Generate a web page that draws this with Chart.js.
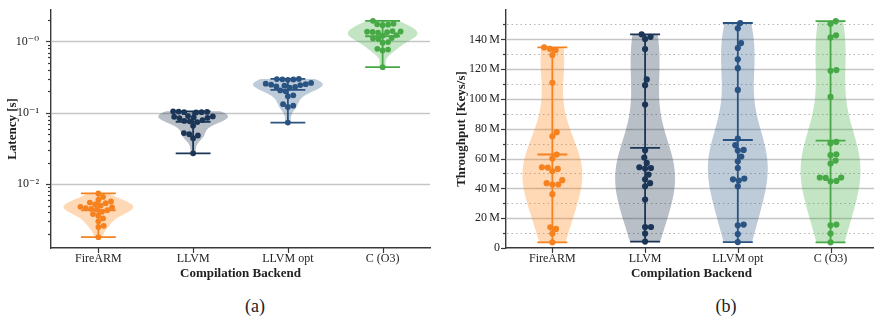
<!DOCTYPE html>
<html>
<head>
<meta charset="utf-8">
<script src="https://cdn.jsdelivr.net/npm/chart.js@4.4.1/dist/chart.umd.min.js"></script>
<style>
  html, body { margin: 0; padding: 0; background: #fff; }
  #wrap { position: relative; width: 874px; height: 322px; overflow: hidden; background: #fff; }
  #latency { position: absolute; left: 0; top: 0; }
  #throughput { position: absolute; left: 440px; top: 0; }
  .caption { position: absolute; top: 296px; font: 18px "Liberation Serif", "DejaVu Serif", serif; color: #222; transform: translateX(-50%); }
</style>
</head>
<body>
<div id="wrap">
  <canvas id="latency" width="437" height="290"></canvas>
  <canvas id="throughput" width="440" height="290"></canvas>
  <div class="caption" style="left:255px">(a)</div>
  <div class="caption" style="left:726px">(b)</div>
</div>
<script>
const backends = ['FireARM', 'LLVM', 'LLVM opt', 'C (O3)'];

// Latency per run, seconds
const latencyFireARM = [0.0074, 0.0066, 0.0060, 0.0057, 0.0055, 0.0054, 0.0052, 0.0050, 0.0048, 0.0047, 0.0046,
                        0.0045, 0.0044, 0.0043, 0.0041, 0.0038, 0.0036, 0.0033, 0.0030, 0.0026, 0.0025, 0.0018];
const latencyLLVM    = [0.105, 0.104, 0.103, 0.102, 0.102, 0.101, 0.090, 0.089, 0.088, 0.086, 0.085,
                        0.084, 0.079, 0.077, 0.076, 0.074, 0.066, 0.052, 0.050, 0.048, 0.044, 0.027];
const latencyLLVMOpt = [0.299, 0.297, 0.295, 0.293, 0.290, 0.262, 0.256, 0.252, 0.248, 0.245, 0.240,
                        0.234, 0.230, 0.226, 0.206, 0.200, 0.176, 0.170, 0.132, 0.126, 0.121, 0.073];
const latencyC       = [1.95, 1.78, 1.74, 1.72, 1.69, 1.40, 1.38, 1.37, 1.36, 1.35, 1.33,
                        1.23, 1.21, 1.12, 1.10, 1.08, 0.98, 0.96, 0.79, 0.77, 0.75, 0.436];

// Throughput per run, millions of keys per second
const throughputFireARM = [134.6, 133.7, 132.8, 129.5, 110.9, 77.7, 75.0, 62.7, 60.0, 54.2, 54.0,
                           53.1, 51.5, 45.5, 43.5, 42.6, 42.6, 36.1, 13.9, 12.8, 9.7, 3.8];
const throughputLLVM    = [143.4, 141.7, 140.2, 133.5, 113.1, 109.3, 96.3, 65.6, 60.7, 57.1, 54.2,
                           53.7, 53.3, 49.3, 46.1, 43.5, 41.4, 32.5, 14.1, 14.1, 9.7, 4.3];
const throughputLLVMOpt = [151.0, 147.4, 137.5, 134.2, 126.6, 120.7, 106.1, 73.5, 69.0, 65.8, 65.4,
                           61.4, 58.2, 53.7, 46.6, 46.1, 45.3, 41.4, 15.7, 15.2, 9.4, 4.0];
const throughputC       = [152.3, 150.5, 142.7, 141.3, 119.4, 118.9, 101.4, 71.2, 70.3, 62.9, 62.3,
                           58.7, 56.7, 47.3, 47.3, 47.0, 45.0, 44.8, 15.7, 15.2, 9.7, 3.8];

// Axis ticks
const latencyDecades = [0.01, 0.1, 1];
const latencyDecadeLabels = ['10⁻²', '10⁻¹', '10⁻⁰'];
const throughputTicks = [0, 20, 40, 60, 80, 100, 120, 140];
const throughputTickLabels = ['0', '20\u2009M', '40\u2009M', '60\u2009M', '80\u2009M', '100\u2009M', '120\u2009M', '140\u2009M'];
const throughputMinorTicks = [10, 30, 50, 70, 90, 110, 130, 150];

// Styling
const markColors = ['#f5821f', '#1b3556', '#285382', '#46a946'];
const fillColors = ['rgba(255,127,14,0.3)', 'rgba(23,43,70,0.3)', 'rgba(40,85,130,0.3)', 'rgba(60,170,60,0.3)'];
const FONT = "'Liberation Serif', 'DejaVu Serif', serif";
const INK = '#222';
const AXIS = '#3a3a3a';
const GRID = '#c6c6c6';

Chart.defaults.font.family = FONT;
Chart.defaults.color = INK;

const avg = a => a.reduce((s, v) => s + v, 0) / a.length;

// Gaussian kernel density with Scott's bandwidth
function densityEstimator(samples) {
  const n = samples.length, m = avg(samples);
  const sd = Math.sqrt(samples.reduce((s, v) => s + (v - m) ** 2, 0) / (n - 1));
  const bw = sd * Math.pow(n, -0.2);
  const norm = n * bw * Math.sqrt(2 * Math.PI);
  return t => samples.reduce((s, v) => s + Math.exp(-0.5 * ((t - v) / bw) ** 2), 0) / norm;
}

// Violins, grid, tick marks and swarm layout for one panel
function violinPanel(cfg) {
  return {
    id: 'violinPanel',
    afterDatasetsUpdate(chart) {
      chart.data.datasets.forEach((ds, i) => {
        const els = chart.getDatasetMeta(i).data.slice().sort((a, b) => b.y - a.y);
        const d = 2 * ds.pointRadius * cfg.spacing;
        const placed = [];
        els.forEach(el => {
          const cands = [0];
          placed.forEach(p => {
            const dy = Math.abs(p.y - el.y);
            if (dy < d) {
              const dx = Math.sqrt(d * d - dy * dy);
              cands.push(p.off + dx, p.off - dx);
            }
          });
          cands.sort((a, b) => Math.abs(a) - Math.abs(b));
          const off = cands.find(c => placed.every(p => (p.off - c) ** 2 + (p.y - el.y) ** 2 >= d * d - 1e-6));
          placed.push({ off, y: el.y });
          el.x += off;
        });
      });
    },
    beforeDatasetsDraw(chart) {
      const { ctx, chartArea: area, scales: { x, y } } = chart;
      const slot = x.getPixelForValue(1) - x.getPixelForValue(0);
      ctx.save();

      cfg.grid.forEach(g => {
        const py = Math.round(y.getPixelForValue(g.value)) + 0.5;
        ctx.beginPath();
        ctx.strokeStyle = g.color;
        ctx.lineWidth = g.width;
        ctx.setLineDash(g.dash || []);
        ctx.moveTo(area.left + 1, py);
        ctx.lineTo(area.right, py);
        ctx.stroke();
      });
      ctx.setLineDash([]);

      ctx.strokeStyle = AXIS;
      ctx.lineWidth = 1.2;
      cfg.yMarks.forEach(t => {
        const py = Math.round(y.getPixelForValue(t.value)) + 0.5;
        ctx.beginPath();
        ctx.moveTo(area.left - t.len, py);
        ctx.lineTo(area.left, py);
        ctx.stroke();
      });
      backends.forEach((_, i) => {
        const px = Math.round(x.getPixelForValue(i)) + 0.5;
        ctx.beginPath();
        ctx.moveTo(px, area.bottom);
        ctx.lineTo(px, area.bottom + 5);
        ctx.stroke();
      });

      const hw = cfg.halfWidth * slot;
      const cap = hw / 2;
      chart.data.datasets.forEach((ds, i) => {
        const vals = ds.data.map(p => p.y);
        const t = vals.map(cfg.forward);
        const lo = Math.min(...t), hi = Math.max(...t);
        const f = densityEstimator(t);
        const steps = 120;
        const us = [], dens = [];
        for (let k = 0; k <= steps; k++) {
          const u = lo + (hi - lo) * k / steps;
          us.push(u);
          dens.push(f(u));
        }
        const dmax = Math.max(...dens);
        const cx = x.getPixelForValue(i);

        ctx.beginPath();
        for (let k = 0; k <= steps; k++) {
          const py = y.getPixelForValue(cfg.inverse(us[k]));
          const px = cx - dens[k] / dmax * hw;
          if (k === 0) ctx.moveTo(px, py); else ctx.lineTo(px, py);
        }
        for (let k = steps; k >= 0; k--) {
          ctx.lineTo(cx + dens[k] / dmax * hw, y.getPixelForValue(cfg.inverse(us[k])));
        }
        ctx.closePath();
        ctx.fillStyle = ds.violinFill;
        ctx.fill();

        const yMin = y.getPixelForValue(cfg.inverse(lo));
        const yMax = y.getPixelForValue(cfg.inverse(hi));
        const yMean = y.getPixelForValue(cfg.inverse(avg(t)));
        ctx.strokeStyle = ds.pointBackgroundColor;
        ctx.lineWidth = 1.8;
        ctx.beginPath();
        ctx.moveTo(cx, yMin);
        ctx.lineTo(cx, yMax);
        [yMin, yMax, yMean].forEach(py => {
          ctx.moveTo(cx - cap, py);
          ctx.lineTo(cx + cap, py);
        });
        ctx.stroke();
      });
      ctx.restore();
    }
  };
}

function buildDatasets(series) {
  return series.map((vals, i) => ({
    label: backends[i],
    data: vals.map(v => ({ x: i, y: v })),
    pointRadius: 0,
    pointBackgroundColor: markColors[i],
    pointBorderWidth: 0,
    violinFill: fillColors[i]
  }));
}

function xScale() {
  return {
    type: 'linear',
    min: -0.5,
    max: 3.5,
    afterBuildTicks: s => { s.ticks = backends.map((_, i) => ({ value: i })); },
    afterFit: s => { s.height = 42; s.paddingLeft = 0; s.paddingRight = 0; },
    ticks: { autoSkip: false, padding: 4, color: INK, font: { size: 12 }, callback: v => backends[v] },
    grid: { display: false, drawTicks: false },
    border: { display: true, color: AXIS, width: 1.4 },
    title: { display: true, text: 'Compilation Backend', color: INK, font: { size: 13, weight: 'bold' }, padding: { top: 0, bottom: 9 } }
  };
}

// ---- (a) latency, log axis ----
const latencySeries = [latencyFireARM, latencyLLVM, latencyLLVMOpt, latencyC];
const latencyLogs = latencySeries.flat().map(Math.log10);
const logLo = Math.min(...latencyLogs), logHi = Math.max(...latencyLogs);
const logPad = 0.05 * (logHi - logLo);
const latencyMin = Math.pow(10, logLo - logPad);
const latencyMax = Math.pow(10, logHi + logPad);

const latencyMarks = [];
for (let e = -4; e <= 1; e++) {
  for (let m = 1; m <= 9; m++) {
    const v = m * Math.pow(10, e);
    if (v >= latencyMin && v <= latencyMax) latencyMarks.push({ value: v, len: m === 1 ? 5 : 3 });
  }
}

const latencyData = buildDatasets(latencySeries);
latencyData.forEach(ds => { ds.pointRadius = 2.9; ds.pointHoverRadius = 2.9; });

new Chart(document.getElementById('latency'), {
  type: 'scatter',
  data: { datasets: latencyData },
  options: {
    responsive: false,
    animation: false,
    events: [],
    layout: { padding: { left: 0, right: 7, top: 10, bottom: 0 } },
    plugins: { legend: { display: false }, tooltip: { enabled: false } },
    scales: {
      x: xScale(),
      y: {
        type: 'logarithmic',
        min: latencyMin,
        max: latencyMax,
        afterBuildTicks: s => { s.ticks = latencyDecades.map(v => ({ value: v })); },
        afterFit: s => { s.width = 51; s.paddingTop = 0; s.paddingBottom = 0; },
        ticks: { autoSkip: false, padding: 12, color: INK, font: { size: 12 }, callback: (v, i) => latencyDecadeLabels[i] },
        grid: { display: false, drawTicks: false },
        border: { display: true, color: AXIS, width: 1.4 },
        title: { display: true, text: 'Latency [s]', color: INK, font: { size: 13, weight: 'bold' }, padding: { top: 5, bottom: 0 } }
      }
    }
  },
  plugins: [violinPanel({
    forward: Math.log10,
    inverse: u => Math.pow(10, u),
    halfWidth: 0.368,
    spacing: 0.95,
    grid: latencyDecades.map(v => ({ value: v, color: GRID, width: 1.4 })),
    yMarks: latencyMarks
  })]
});

// ---- (b) throughput, linear axis ----
const throughputSeries = [throughputFireARM, throughputLLVM, throughputLLVMOpt, throughputC];
const tpAll = throughputSeries.flat();
const tpLo = Math.min(...tpAll), tpHi = Math.max(...tpAll);
const throughputMax = tpHi + 0.05 * (tpHi - tpLo);

const throughputData = buildDatasets(throughputSeries);
throughputData.forEach(ds => { ds.pointRadius = 3.1; ds.pointHoverRadius = 3.1; });

new Chart(document.getElementById('throughput'), {
  type: 'scatter',
  data: { datasets: throughputData },
  options: {
    responsive: false,
    animation: false,
    events: [],
    layout: { padding: { left: 0, right: 2, top: 10, bottom: 0 } },
    plugins: { legend: { display: false }, tooltip: { enabled: false } },
    scales: {
      x: xScale(),
      y: {
        type: 'linear',
        min: 0,
        max: throughputMax,
        afterBuildTicks: s => { s.ticks = throughputTicks.map(v => ({ value: v })); },
        afterFit: s => { s.width = 66; s.paddingTop = 0; s.paddingBottom = 0; },
        ticks: { autoSkip: false, padding: 6, color: INK, font: { size: 12 }, callback: (v, i) => throughputTickLabels[i] },
        grid: { display: false, drawTicks: false },
        border: { display: true, color: AXIS, width: 1.4 },
        title: { display: true, text: 'Throughput [Keys/s]', color: INK, font: { size: 13, weight: 'bold' }, padding: { top: 14, bottom: 0 } }
      }
    }
  },
  plugins: [violinPanel({
    forward: v => v,
    inverse: u => u,
    halfWidth: 0.323,
    spacing: 0.95,
    grid: throughputTicks.filter(v => v > 0).map(v => ({ value: v, color: GRID, width: 1.4 }))
      .concat(throughputMinorTicks.map(v => ({ value: v, color: '#b4b4b4', width: 1, dash: [1.5, 3] }))),
    yMarks: throughputTicks.map(v => ({ value: v, len: 5 })).concat(throughputMinorTicks.map(v => ({ value: v, len: 3 })))
  })]
});
</script>
</body>
</html>
